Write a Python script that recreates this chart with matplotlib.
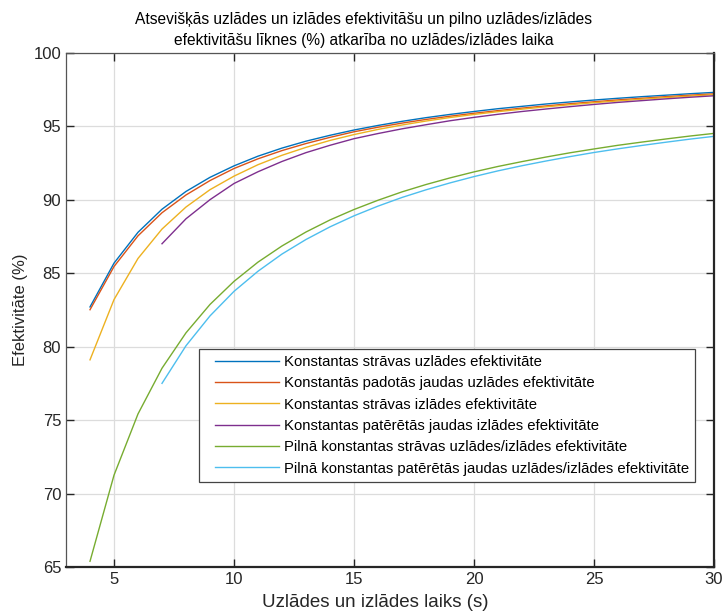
import matplotlib
matplotlib.use('Agg')
import matplotlib.pyplot as plt
from matplotlib.legend_handler import HandlerLine2D

# time axis (s)
t_full = list(range(4, 31))
t_late = list(range(7, 31))

# efficiency values (%)
cc_charge = [82.70, 85.68, 87.78, 89.35, 90.56, 91.52, 92.30, 92.96, 93.51, 93.98,
             94.38, 94.74, 95.05, 95.33, 95.58, 95.80, 96.00, 96.19, 96.35, 96.51,
             96.65, 96.78, 96.90, 97.01, 97.11, 97.21, 97.30]
cp_charge = [82.51, 85.45, 87.54, 89.11, 90.32, 91.30, 92.12, 92.78, 93.34, 93.82,
             94.24, 94.62, 94.93, 95.21, 95.46, 95.68, 95.88, 96.06, 96.23, 96.38,
             96.53, 96.66, 96.79, 96.90, 97.01, 97.11, 97.20]
cc_discharge = [79.10, 83.20, 86.00, 88.00, 89.50, 90.68, 91.60, 92.38, 93.02, 93.56,
                94.03, 94.43, 94.78, 95.08, 95.35, 95.59, 95.80, 95.99, 96.16, 96.32,
                96.46, 96.60, 96.72, 96.84, 96.95, 97.05, 97.15]
cp_discharge = [87.00, 88.70, 90.00, 91.10, 91.90, 92.60, 93.20, 93.70, 94.15, 94.50,
                94.82, 95.10, 95.37, 95.60, 95.81, 96.00, 96.17, 96.33, 96.48, 96.62,
                96.74, 96.86, 96.97, 97.07]
cc_full = [65.39, 71.25, 75.42, 78.53, 80.94, 82.87, 84.44, 85.75, 86.85, 87.80,
           88.62, 89.33, 89.96, 90.53, 91.03, 91.48, 91.89, 92.26, 92.59, 92.90,
           93.19, 93.45, 93.70, 93.92, 94.13, 94.33, 94.51]
cp_full = [77.50, 80.06, 82.09, 83.76, 85.13, 86.30, 87.29, 88.15, 88.90, 89.56,
           90.15, 90.67, 91.14, 91.57, 91.96, 92.31, 92.63, 92.93, 93.21, 93.46,
           93.69, 93.91, 94.12, 94.31]

labels = ['Konstantas strāvas uzlādes efektivitāte',
          'Konstantās padotās jaudas uzlādes efektivitāte',
          'Konstantas strāvas izlādes efektivitāte',
          'Konstantas patērētās jaudas izlādes efektivitāte',
          'Pilnā konstantas strāvas uzlādes/izlādes efektivitāte',
          'Pilnā konstantas patērētās jaudas uzlādes/izlādes efektivitāte']
colors = ['#0072BD', '#D95319', '#EDB120', '#7E2F8E', '#77AC30', '#4DBEEE']


class LeadHandler(HandlerLine2D):
    # legend line starts a bit right of the frame, like in matlab
    lead = 7.2

    def get_xdata(self, legend, xdescent, ydescent, width, height, fontsize):
        return [-xdescent + self.lead, -xdescent + width], [-xdescent + 0.5 * width]


plt.rcParams['font.family'] = 'Liberation Sans'
plt.rcParams['xtick.direction'] = 'in'
plt.rcParams['ytick.direction'] = 'in'

fig = plt.figure(figsize=(7.27, 6.13), dpi=100)
ax = fig.add_axes([0.0908, 0.075, 0.8913, 0.839])

series = [(t_full, cc_charge), (t_full, cp_charge), (t_full, cc_discharge),
          (t_late, cp_discharge), (t_full, cc_full), (t_late, cp_full)]
lines = []
for (t, y), c, lab in zip(series, colors, labels):
    ln, = ax.plot(t, y, color=c, lw=1.0, label=lab)
    lines.append(ln)

ax.set_xlim(3, 30)
ax.set_ylim(65, 100)
ax.set_xticks(range(5, 31, 5))
ax.set_yticks(range(65, 101, 5))
ax.grid(True, color='#dcdcdc', lw=0.9)
ax.set_axisbelow(True)
ax.tick_params(axis='both', which='both', top=True, right=True, length=6,
               width=1.0, color='#262626', labelsize=12, labelcolor='#262626')

for side in ['left', 'top']:
    ax.spines[side].set_color('#555555')
    ax.spines[side].set_linewidth(0.9)
for side in ['right', 'bottom']:
    ax.spines[side].set_color('#262626')
    ax.spines[side].set_linewidth(1.6)

ax.set_xlabel('Uzlādes un izlādes laiks (s)', fontsize=13.5, color='#262626',
              labelpad=5, x=0.478)
ax.set_ylabel('Efektivitāte (%)', fontsize=12, color='#262626')
ax.set_title('Atsevišķās uzlādes un izlādes efektivitāšu un pilno uzlādes/izlādes\n'
             'efektivitāšu līknes (%) atkarība no uzlādes/izlādes laika',
             fontsize=11.2, color='black', x=0.459, pad=5.5, linespacing=1.5)

leg = ax.legend(handles=lines, loc='upper left', bbox_to_anchor=(0.2052, 0.4239),
                borderaxespad=0, fontsize=10.75, fancybox=False, framealpha=1,
                edgecolor='#444444', handlelength=4.96, handletextpad=0.33,
                labelspacing=0.49, borderpad=0.4,
                handler_map={ln: LeadHandler() for ln in lines})
leg.get_frame().set_linewidth(0.9)

fig.savefig('out.png', dpi=100)
